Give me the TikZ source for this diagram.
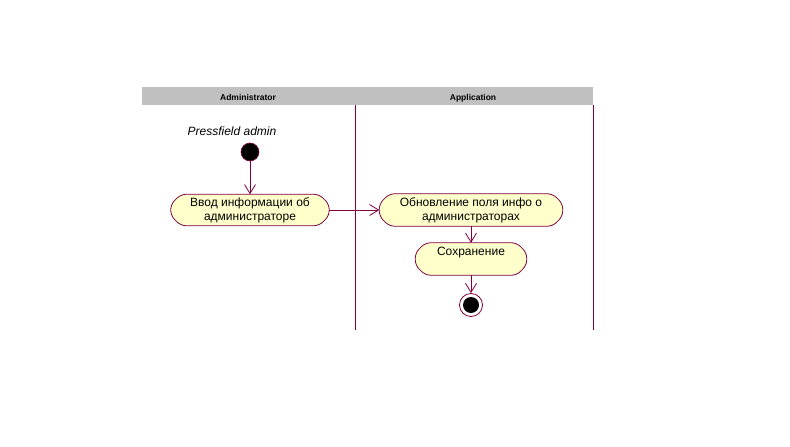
\documentclass[tikz,border=0pt]{standalone}
\usepackage{fontspec}
\setmainfont{Liberation Sans}
\usetikzlibrary{arrows.meta,backgrounds}
\definecolor{umlline}{RGB}{128,0,64}
\definecolor{umlfill}{RGB}{255,255,204}
\definecolor{hdr}{RGB}{192,192,192}
\tikzset{
  actnode/.style={rectangle, draw=none, font=\fontsize{12}{14}\selectfont, align=center, inner sep=0pt},
  actdraw/.style={draw=umlline, fill=umlfill, line width=0.8pt, rounded corners=5pt},
  flow/.style={draw=umlline, line width=0.8pt, -{Straight Barb[length=9pt,width=11pt,line width=0.8pt]}},
  lane/.style={draw=umlline, line width=0.9pt},
  hdrtext/.style={font=\bfseries\fontsize{8.5}{10}\selectfont, anchor=base}
}
\newcommand{\actshape}[1]{%
  \path[actdraw] ([xshift=10pt]#1.north west) -- ([xshift=-10pt]#1.north east)
    -- ([yshift=-10pt]#1.north east) -- ([yshift=10pt]#1.south east)
    -- ([xshift=-10pt]#1.south east) -- ([xshift=10pt]#1.south west)
    -- ([yshift=10pt]#1.south west) -- ([yshift=-10pt]#1.north west) -- cycle;}
\begin{document}
\begin{tikzpicture}[x=1pt,y=-1pt]
\useasboundingbox (0,0) rectangle (790,447);
% header
\fill[hdr] (142,87) rectangle (593,105);
\node[hdrtext] (h1) at (248,100.5) {Administrator};
\node[hdrtext] (h2) at (473,100.5) {Application};
% lanes
\draw[lane] (355,105) -- (355,330);
\draw[lane] (593,105) -- (593,330);
% start
\node[font=\itshape\fontsize{12}{14}\selectfont] (lbl) at (232,131) {Pressfield admin};
\node[circle, fill=black, draw=umlline, line width=0.6pt, minimum size=18pt, inner sep=0pt] (start) at (250,152) {};
% activities
\node[actnode, minimum width=158pt, minimum height=31pt] (a1) at (250,210) {Ввод информации об\\администраторе};
\node[actnode, minimum width=183pt, minimum height=32pt] (a2) at (471,210) {Обновление поля инфо о\\администраторах};
\node[actnode, minimum width=111pt, minimum height=32pt] (a3) at (471,259) {};
\node[font=\fontsize{12}{14}\selectfont] (a3t) at (471,253) {Сохранение};
\begin{scope}[on background layer]
\fill[white] (0,0) rectangle (790,447);
\actshape{a1}
\actshape{a2}
\actshape{a3}
\end{scope}
% end
\node[circle, draw=umlline, fill=white, line width=0.8pt, minimum size=23pt, inner sep=0pt] (end) at (471,305) {};
\node[circle, fill=black, minimum size=16pt, inner sep=0pt] (endin) at (471,305) {};
% flows
\draw[flow] (start) -- (a1);
\draw[flow] (a1) -- (a2);
\draw[flow] (a2) -- (a3);
\draw[flow] (a3) -- (end);
\end{tikzpicture}
\end{document}
